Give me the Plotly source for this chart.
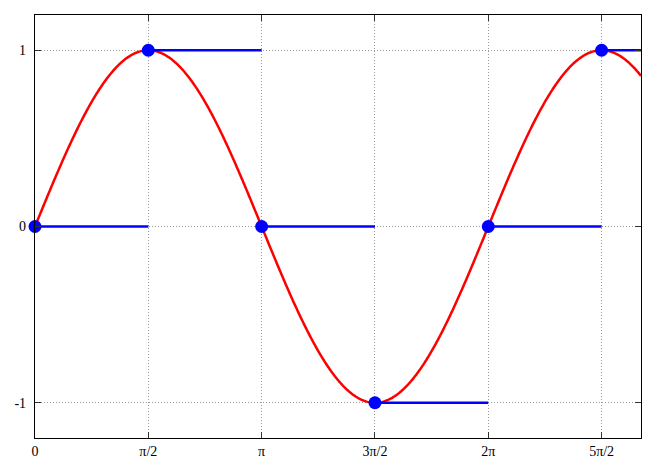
import numpy as np
import plotly.graph_objects as go

# Sample points (multiples of pi/2) and the held sample values
sample_steps = [0, 1, 2, 3, 4, 5]
sample_values = [0, 1, 0, -1, 0, 1]

tick_labels = ["0", "π/2", "π", "3π/2", "2π", "5π/2"]
y_ticks = [-1, 0, 1]
y_labels = ["-1", "0", "1"]

x_max = 8.4
half_pi = np.pi / 2
sample_x = [k * half_pi for k in sample_steps]

# Continuous signal
t = np.linspace(0, x_max, 600)
signal = np.sin(t)

# Sample-and-hold segments (no vertical jumps)
hold_x, hold_y = [], []
for x0, v in zip(sample_x, sample_values):
    hold_x += [x0, x0 + half_pi, None]
    hold_y += [v, v, None]

fig = go.Figure()
fig.add_trace(go.Scatter(x=t, y=signal, mode='lines',
                         line=dict(color='#ff0000', width=2.5, simplify=False)))
fig.add_trace(go.Scatter(x=hold_x, y=hold_y, mode='lines',
                         line=dict(color='#0000ff', width=2.6)))
fig.add_trace(go.Scatter(x=sample_x, y=sample_values, mode='markers',
                         marker=dict(color='#0000ff', size=13), cliponaxis=False))

axis_common = dict(
    showline=True, linecolor='black', linewidth=1.2, mirror='ticks',
    ticks='inside', ticklen=6, tickcolor='#333333', tickwidth=1.2,
    showgrid=True, gridcolor='#999999', gridwidth=1, griddash='1px,2px',
    zeroline=False, automargin=False,
    tickfont=dict(family='Liberation Serif', size=14, color='black'),
)

# page body has an 8px margin, so the figure is sized/offset to fit the window
fig.update_layout(
    width=656, height=457,
    margin=dict(l=27, r=23, t=7, b=27),
    plot_bgcolor='white', paper_bgcolor='white',
    showlegend=False,
    xaxis=dict(range=[0, x_max], tickvals=sample_x, ticktext=tick_labels, **axis_common),
    yaxis=dict(range=[-1.2, 1.2], tickvals=y_ticks, ticktext=y_labels,
               ticklabelstandoff=5, **axis_common),
)

fig.write_html("out.html")
